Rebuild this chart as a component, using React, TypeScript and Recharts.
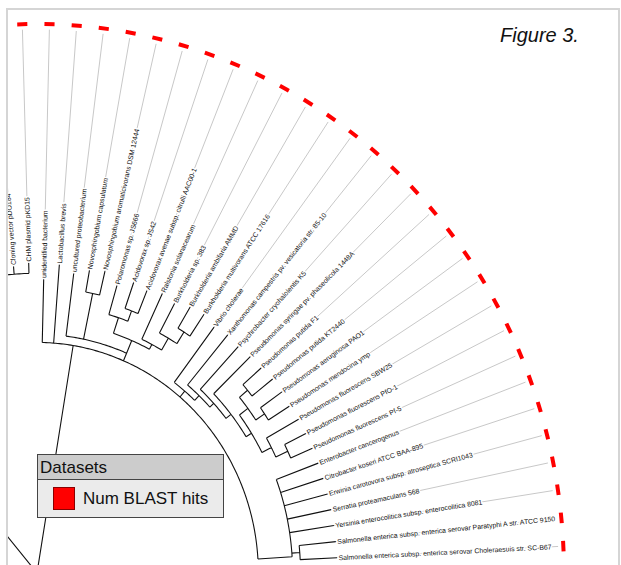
import React from 'react';
import { ComposedChart, Line, XAxis, YAxis, Legend } from 'recharts';

// leaves in ring order, clockwise from 12 o'clock
const leafNames = [
  'Cloning vector pDO184',
  'CHM plasmid pKD15',
  'unidentified bacterium',
  'Lactobacillus brevis',
  'uncultured proteobacterium',
  'Novosphingobium capsulatum',
  'Novosphingobium aromaticivorans DSM 12444',
  'Polaromonas sp. JS666',
  'Acidovorax sp. JS42',
  'Acidovorax avenae subsp. citrulli AAC00-1',
  'Ralstonia solanacearum',
  'Burkholderia sp. 383',
  'Burkholderia ambifaria AMMD',
  'Burkholderia multivorans ATCC 17616',
  'Vibrio cholerae',
  'Xanthomonas campestris pv. vesicatoria str. 85-10',
  'Psychrobacter cryohalolentis K5',
  'Pseudomonas syringae pv. phaseolicola 1448A',
  'Pseudomonas putida F1',
  'Pseudomonas putida KT2440',
  'Pseudomonas aeruginosa PAO1',
  'Pseudomonas mendocina ymp',
  'Pseudomonas fluorescens SBW25',
  'Pseudomonas fluorescens PfO-1',
  'Pseudomonas fluorescens Pf-5',
  'Enterobacter cancerogenus',
  'Citrobacter koseri ATCC BAA-895',
  'Erwinia carotovora subsp. atroseptica SCRI1043',
  'Serratia proteamaculans 568',
  'Yersinia enterocolitica subsp. enterocolitica 8081',
  'Salmonella enterica subsp. enterica serovar Paratyphi A str. ATCC 9150',
  'Salmonella enterica subsp. enterica serovar Choleraesuis str. SC-B67',
];

// radius of each leaf tip (1 = dataset ring)
const tipRadius = [
  0.56, 0.565, 0.535, 0.563, 0.55, 0.56, 0.565, 0.545, 0.56, 0.555, 0.562,
  0.556, 0.565, 0.568, 0.56, 0.565, 0.562, 0.565, 0.566, 0.57, 0.57, 0.567,
  0.57, 0.57, 0.57, 0.57, 0.57, 0.57, 0.57, 0.57, 0.57, 0.57,
];

const blastHits = [
  1, 1, 1, 1, 1, 1, 1, 1, 1, 1, 1, 1, 1, 1, 1, 1,
  1, 1, 1, 1, 1, 1, 1, 1, 1, 1, 1, 1, 1, 1, 1, 1,
];

const FIRST_LEAF_DEG = -4.56;
const LEAF_STEP_DEG = 2.96;

type Kid = number | TreeNode;
interface TreeNode {
  r: number;
  a?: number;
  kids: Kid[];
}

// clades
const plasmids: TreeNode = { r: 0.546, kids: [0, 1] };
const outgroup: TreeNode = { r: 0.546, a: -40, kids: [plasmids] };

const novosphingobium: TreeNode = { r: 0.52, kids: [5, 6] };
const acidovorax: TreeNode = { r: 0.51, kids: [8, 9] };
const comamonads: TreeNode = { r: 0.49, kids: [7, acidovorax] };
const burkPair: TreeNode = { r: 0.52, kids: [12, 13] };
const burkholderia: TreeNode = { r: 0.495, kids: [11, burkPair] };
const ralstonia: TreeNode = { r: 0.47, kids: [10, burkholderia] };
const betaClade: TreeNode = { r: 0.46, kids: [comamonads, ralstonia] };
const alphaBeta: TreeNode = { r: 0.435, a: 23, kids: [4, novosphingobium, betaClade] };

const putida: TreeNode = { r: 0.52, kids: [18, 19] };
const aeruginosa: TreeNode = { r: 0.52, kids: [20, 21] };
const pseudoA: TreeNode = { r: 0.5, kids: [putida, aeruginosa] };
const fluorPair: TreeNode = { r: 0.525, kids: [23, 24] };
const fluorescens: TreeNode = { r: 0.5, kids: [22, fluorPair] };
const pseudoCore: TreeNode = { r: 0.48, kids: [pseudoA, fluorescens] };
const pseudomonas: TreeNode = { r: 0.468, kids: [17, pseudoCore] };
const psychro: TreeNode = { r: 0.456, kids: [16, pseudomonas] };
const xantho: TreeNode = { r: 0.446, kids: [15, psychro] };
const gamma: TreeNode = { r: 0.434, kids: [14, xantho] };

const salmonella: TreeNode = { r: 0.5, kids: [30, 31] };
const entero: TreeNode = { r: 0.485, a: 86.5, kids: [25, 26, 27, 28, 29, salmonella] };

const mainClade: TreeNode = { r: 0.42, a: 9.4, kids: [2, 3, alphaBeta, gamma, entero] };
const root: TreeNode = { r: 0.004, kids: [outgroup, mainClade] };

// chart frame: the ring is centred just below the bottom-left corner
const W = 621;
const H = 565;
const X_DOMAIN: [number, number] = [-0.0702, 1.1082];
const Y_DOMAIN: [number, number] = [0.0146, 1.0437];
const PX_X = W / (X_DOMAIN[1] - X_DOMAIN[0]);
const PX_Y = H / (Y_DOMAIN[1] - Y_DOMAIN[0]);

type P = { x: number; y: number | null };
const BREAK: P = { x: 0, y: null };
const rad = (d: number) => (d * Math.PI) / 180;
const pt = (r: number, deg: number): P => ({ x: r * Math.sin(rad(deg)), y: r * Math.cos(rad(deg)) });

const leafAngle = (k: number) => FIRST_LEAF_DEG + LEAF_STEP_DEG * k;
const angleOf = (c: Kid): number => (typeof c === 'number' ? leafAngle(c) : nodeAngle(c));
function nodeAngle(n: TreeNode): number {
  if (n.a !== undefined) return n.a;
  const angs = n.kids.map(angleOf);
  return angs.reduce((s, v) => s + v, 0) / angs.length;
}

function arc(r: number, from: number, to: number, out: P[]) {
  const steps = Math.max(2, Math.ceil((to - from) / 0.5));
  for (let i = 0; i <= steps; i++) out.push(pt(r, from + ((to - from) * i) / steps));
  out.push(BREAK);
}

function drawNode(n: TreeNode, parentR: number, out: P[]) {
  const a = nodeAngle(n);
  out.push(pt(parentR, a), pt(n.r, a), BREAK);
  const angs = n.kids.map(angleOf).concat(a);
  arc(n.r, Math.min(...angs), Math.max(...angs), out);
  n.kids.forEach((kid) => {
    if (typeof kid === 'number') {
      const la = leafAngle(kid);
      out.push(pt(n.r, la), pt(tipRadius[kid], la), BREAK);
    } else {
      drawNode(kid, n.r, out);
    }
  });
}

const treeLines: P[] = [];
drawNode(root, 0, treeLines);

const guideLines: P[] = [];
leafNames.forEach((_, k) => {
  guideLines.push(pt(tipRadius[k], leafAngle(k)), pt(0.99, leafAngle(k)), BREAK);
});

const hitMarks: P[] = [];
blastHits.forEach((h, k) => {
  if (!h) return;
  const a = leafAngle(k);
  hitMarks.push(pt(1, a - 0.55 * h), pt(1, a + 0.55 * h), BREAK);
});

const tips = leafNames.map((name, k) => ({ ...pt(tipRadius[k], leafAngle(k)), name, deg: leafAngle(k) }));

const FONT = '"Liberation Sans", Arial, Helvetica, sans-serif';

const LeafLabel = (props: any) => {
  const { cx, cy, payload, index } = props;
  if (cx == null || cy == null || !payload) return <g key={`lbl-${index}`} />;
  const t = rad(payload.deg);
  const rot = (Math.atan2(-PX_Y * Math.cos(t), PX_X * Math.sin(t)) * 180) / Math.PI;
  return (
    <text
      key={`lbl-${index}`}
      x={cx}
      y={cy}
      dx={1.5}
      transform={`rotate(${rot} ${cx} ${cy})`}
      fontSize={6.9}
      fontFamily={FONT}
      fill="#111111"
      stroke="#ffffff"
      strokeWidth={2.8}
      paintOrder="stroke"
      dominantBaseline="central"
    >
      {payload.name}
    </text>
  );
};

const DatasetBox = (props: any) => {
  const items = (props.payload || []).filter((p: any) => p.type !== 'none');
  return (
    <div style={{ width: 185, border: '1px solid #444', fontFamily: FONT, fontSize: 17, lineHeight: '17px', color: '#111' }}>
      <div style={{ background: '#cccccc', height: 25, boxSizing: 'border-box', padding: '4px 0 0 2px', borderBottom: '1px solid #444' }}>
        Datasets
      </div>
      <div style={{ background: '#ebebeb', height: 37, display: 'flex', alignItems: 'center', paddingLeft: 15 }}>
        {items.map((it: any) => (
          <React.Fragment key={it.value}>
            <span style={{ display: 'inline-block', width: 20, height: 21, background: it.color, border: '1px solid #8a0000', marginRight: 8 }} />
            <span>{it.value}</span>
          </React.Fragment>
        ))}
      </div>
    </div>
  );
};

export default function App() {
  return (
    <div style={{ position: 'absolute', left: 0, top: 0, width: W, height: H, overflow: 'hidden', background: '#fff' }}>
      <div style={{ position: 'absolute', left: 6, top: 8, width: 610, height: 600, border: '2px solid #d5d5d5', overflow: 'hidden' }}>
        <div style={{ position: 'absolute', left: -8, top: -10 }}>
          <ComposedChart width={W} height={H} margin={{ top: 0, right: 0, bottom: 0, left: 0 }}>
            <XAxis type="number" dataKey="x" domain={X_DOMAIN} allowDataOverflow hide />
            <YAxis type="number" dataKey="y" domain={Y_DOMAIN} allowDataOverflow hide />
            <Legend
              layout="horizontal"
              verticalAlign="middle"
              align="center"
              wrapperStyle={{ left: 37, top: 454, width: 187 }}
              content={DatasetBox}
            />
            <Line data={guideLines} dataKey="y" stroke="#c8c8c8" strokeWidth={1} dot={false} legendType="none" isAnimationActive={false} />
            <Line data={treeLines} dataKey="y" stroke="#111111" strokeWidth={1.1} dot={false} legendType="none" isAnimationActive={false} />
            <Line data={tips} dataKey="y" stroke="none" dot={(p: any) => <LeafLabel {...p} key={`lbl-${p.index}`} />} activeDot={false} legendType="none" isAnimationActive={false} />
            <Line data={hitMarks} dataKey="y" name="Num BLAST hits" stroke="#ff0000" strokeWidth={4} dot={false} legendType="rect" isAnimationActive={false} />
          </ComposedChart>
        </div>
      </div>
      <div style={{ position: 'absolute', left: 500, top: 25, fontFamily: FONT, fontStyle: 'italic', fontSize: 20, lineHeight: '20px', color: '#111' }}>
        Figure 3.
      </div>
    </div>
  );
}
